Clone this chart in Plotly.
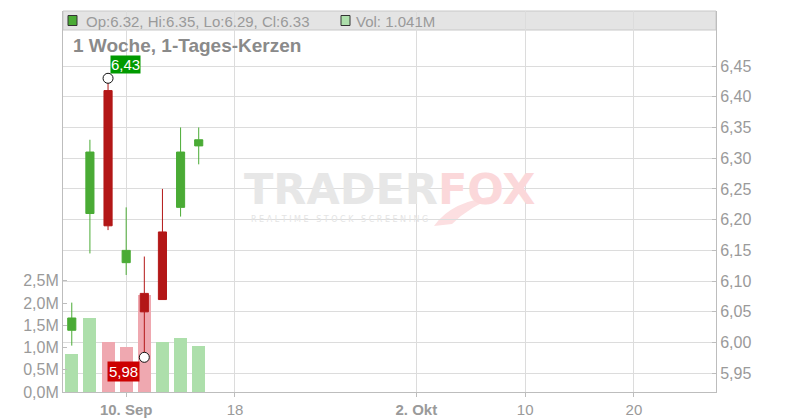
import plotly.graph_objects as go

# ---------------- data ----------------
dates = ["2025-09-05", "2025-09-08", "2025-09-09", "2025-09-10",
         "2025-09-11", "2025-09-12", "2025-09-15", "2025-09-16"]
opens = [6.02, 6.21, 6.41, 6.13, 6.08, 6.18, 6.22, 6.32]
highs = [6.065, 6.33, 6.43, 6.22, 6.14, 6.25, 6.35, 6.35]
lows = [5.995, 6.145, 6.183, 6.11, 5.976, 6.07, 6.205, 6.29]
closes = [6.04, 6.31, 6.19, 6.15, 6.05, 6.07, 6.31, 6.33]
volumes_m = [0.86, 1.67, 1.13, 1.02, 2.19, 1.13, 1.22, 1.041]

price_ticks = [5.95, 6.00, 6.05, 6.10, 6.15, 6.20, 6.25, 6.30, 6.35, 6.40, 6.45]
vol_ticks = [0.0, 0.5, 1.0, 1.5, 2.0, 2.5]
vol_tick_labels = ["0,0M", "0,5M", "1,0M", "1,5M", "2,0M", "2,5M"]
x_tick_dates = ["2025-09-10", "2025-09-18", "2025-10-02", "2025-10-10", "2025-10-20"]
x_tick_labels = ["<b>10. Sep</b>", "18", "<b>2. Okt</b>", "10", "20"]

title_text = "1 Woche, 1-Tages-Kerzen"

# ---------------- styles ----------------
GREEN = "#4aab35"
RED = "#b31717"
VOL_GREEN = "#addfab"
VOL_RED = "#efa8b0"
GRID = "#dcdcdc"
AXIS = "#bdbdbd"
TXT = "#9a9a9a"
FONT = "Liberation Sans, Arial, sans-serif"

L, R, T, B = 63, 716, 11, 392
W, H = R - L, B - T


def px(x):
    return (x - L) / W


def py(y):
    return (B - y) / H


vol_colors = [VOL_GREEN]
for i in range(1, len(closes)):
    vol_colors.append(VOL_GREEN if closes[i] >= closes[i - 1] else VOL_RED)

fig = go.Figure()

fig.add_trace(go.Bar(
    x=dates, y=volumes_m, yaxis="y", marker=dict(color=vol_colors, line=dict(width=0)),
    width=0.72 * 86400000, showlegend=False, hoverinfo="skip"))

fig.add_trace(go.Candlestick(
    x=dates, open=opens, high=highs, low=lows, close=closes, yaxis="y2",
    increasing=dict(line=dict(color=GREEN, width=1), fillcolor=GREEN),
    decreasing=dict(line=dict(color=RED, width=1), fillcolor=RED),
    whiskerwidth=0, showlegend=False))

hi_i = highs.index(max(highs))
lo_i = lows.index(min(lows))
fig.add_trace(go.Scatter(
    x=[dates[hi_i], dates[lo_i]], y=[highs[hi_i], lows[lo_i]], yaxis="y2",
    mode="markers", marker=dict(symbol="circle", size=10, color="white",
                                line=dict(color="#111111", width=1)),
    showlegend=False, hoverinfo="skip"))

fmt = lambda v: f"{v:.2f}".replace(".", ",")

annotations = [
    dict(x=dates[hi_i], y=highs[hi_i], xref="x", yref="y2", text=fmt(highs[hi_i]),
         showarrow=False, xanchor="left", yanchor="bottom", xshift=2, yshift=4,
         bgcolor="#009a00", borderpad=0, font=dict(color="white", size=15, family=FONT)),
    dict(x=dates[lo_i], y=lows[lo_i], xref="x", yref="y2", text=fmt(lows[lo_i]),
         showarrow=False, xanchor="right", yanchor="top", xshift=-4, yshift=-4,
         bgcolor="#cc0000", borderpad=1, font=dict(color="white", size=15, family=FONT)),
    # title
    dict(x=px(71), y=py(46), xref="paper", yref="paper", text=f"<b>{title_text}</b>",
         showarrow=False, xanchor="left", yanchor="middle",
         font=dict(color="#8a8a8a", size=19, family=FONT)),
    # legend texts
    dict(x=px(84), y=py(21), xref="paper", yref="paper",
         text=f"Op:{opens[-1]:.2f}, Hi:{highs[-1]:.2f}, Lo:{lows[-1]:.2f}, Cl:{closes[-1]:.2f}",
         showarrow=False, xanchor="left", yanchor="middle",
         font=dict(color=TXT, size=15, family=FONT)),
    dict(x=px(354), y=py(21), xref="paper", yref="paper",
         text=f"Vol: {volumes_m[-1]:.3f}M",
         showarrow=False, xanchor="left", yanchor="middle",
         font=dict(color=TXT, size=15, family=FONT)),
    # watermark
    dict(x=px(389), y=py(189), xref="paper", yref="paper",
         text="<b><span style='color:#e7e7e7'>TRADER</span><span style='color:#fbd8da'>FOX</span></b>",
         showarrow=False, xanchor="center", yanchor="middle",
         font=dict(size=43, family="DejaVu Sans, sans-serif")),
    dict(x=px(339), y=py(219), xref="paper", yref="paper",
         text="R E A L T I M E   S T O C K   S C R E E N I N G",
         showarrow=False, xanchor="center", yanchor="middle",
         font=dict(size=8, color="#e4e4e4", family="DejaVu Sans, sans-serif")),
]

swoosh = (f"M {px(434)},{py(226)} "
          f"Q {px(452)},{py(200)} {px(498)},{py(196)} "
          f"Q {px(470)},{py(206)} {px(452)},{py(224)} Z")

shapes = [
    dict(type="rect", xref="paper", yref="paper", x0=0, x1=1, y0=py(30), y1=1,
         fillcolor="#e4e4e4", line=dict(color="#c8c8c8", width=1), layer="below"),
    dict(type="rect", xref="paper", yref="paper", x0=px(68), x1=px(77), y0=py(25.5), y1=py(15.5),
         fillcolor=GREEN, line=dict(color="#333333", width=1)),
    dict(type="rect", xref="paper", yref="paper", x0=px(341), x1=px(350), y0=py(25.5), y1=py(15.5),
         fillcolor=VOL_GREEN, line=dict(color="#333333", width=1)),
    dict(type="path", xref="paper", yref="paper", path=swoosh,
         fillcolor="#fcdfe1", line=dict(width=0), layer="below"),
]

fig.update_layout(
    width=800, height=420,
    margin=dict(l=L, r=800 - R, t=T, b=420 - B, pad=0, autoexpand=False),
    paper_bgcolor="white", plot_bgcolor="rgba(0,0,0,0)",
    separators=",.",
    font=dict(family=FONT, color=TXT, size=15),
    showlegend=False,
    bargap=0,
    boxgap=0.36,
    annotations=annotations,
    shapes=shapes,
    xaxis=dict(
        type="date",
        rangebreaks=[dict(bounds=["sat", "mon"])],
        range=["2025-09-04 12:23", "2025-10-24 12:37"],
        tickvals=x_tick_dates, ticktext=x_tick_labels,
        showgrid=True, gridcolor=GRID, gridwidth=1,
        showline=True, linecolor=AXIS, linewidth=1,
        ticks="outside", ticklen=4, tickcolor=AXIS,
        tickfont=dict(size=15, color=TXT, family=FONT),
        rangeslider=dict(visible=False), fixedrange=True, zeroline=False,
        automargin=False,
    ),
    yaxis=dict(
        side="left", range=[0, (B - T) / 44.5],
        tickvals=vol_ticks, ticktext=vol_tick_labels,
        showgrid=False, zeroline=False,
        showline=True, linecolor=AXIS, linewidth=1,
        ticks="inside", ticklen=4, tickcolor=AXIS,
        tickfont=dict(size=16, color=TXT, family=FONT),
        automargin=False,
    ),
    yaxis2=dict(
        overlaying="y", side="right",
        range=[6.45 - (B - 66) / 614.6, 6.45 + (66 - T) / 614.6],
        tickvals=price_ticks, tickformat=".2f",
        showgrid=True, gridcolor=GRID, gridwidth=1, zeroline=False,
        showline=True, linecolor=AXIS, linewidth=1,
        ticks="inside", ticklen=4, tickcolor=AXIS,
        tickfont=dict(size=16, color=TXT, family=FONT),
        automargin=False,
    ),
)

fig.write_html("out.html", config={"displayModeBar": False},
               post_script="document.body.style.margin='0';document.body.style.padding='0';")
